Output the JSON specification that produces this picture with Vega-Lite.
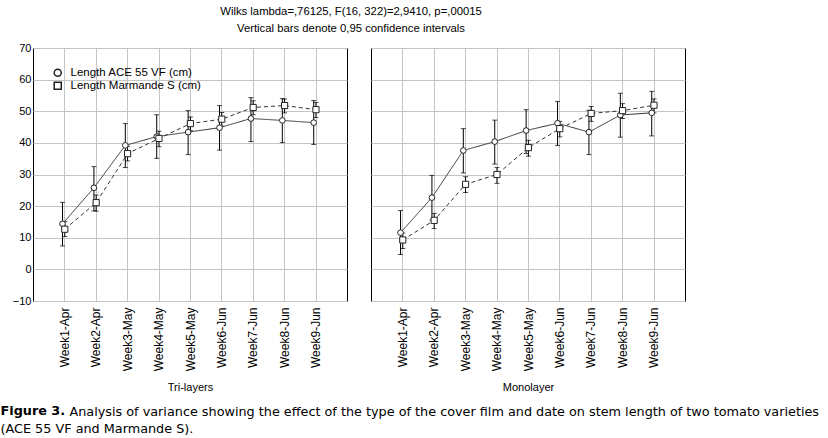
{
  "$schema": "https://vega.github.io/schema/vega-lite/v6.json",
  "padding": {"left": 0, "top": 6, "right": 2, "bottom": 2},
  "background": "white",
  "config": {
    "font": "Liberation Sans",
    "view": {"stroke": "black", "strokeWidth": 1},
    "axis": {"domain": false, "grid": true, "gridColor": "#c4c4c4", "gridOpacity": 1, "gridWidth": 1, "labelColor": "black", "labelFontSize": 11, "titleFontWeight": "normal", "titleFontSize": 11, "titleColor": "black", "tickColor": "black"},
    "axisY": {"values": [-10, 0, 10, 20, 30, 40, 50, 60, 70], "labelOverlap": false, "title": null, "ticks": false, "labelPadding": 2}
  },
  "datasets": {
    "d": [
      {"panel": "Tri-layers", "week": "Week1-Apr", "series": "Length ACE 55 VF (cm)", "mean": 14.4, "lo": 7.4, "hi": 21.2},
      {"panel": "Tri-layers", "week": "Week2-Apr", "series": "Length ACE 55 VF (cm)", "mean": 25.8, "lo": 18.5, "hi": 32.5},
      {"panel": "Tri-layers", "week": "Week3-May", "series": "Length ACE 55 VF (cm)", "mean": 39.2, "lo": 32.2, "hi": 46.1},
      {"panel": "Tri-layers", "week": "Week4-May", "series": "Length ACE 55 VF (cm)", "mean": 42.0, "lo": 35.1, "hi": 48.9},
      {"panel": "Tri-layers", "week": "Week5-May", "series": "Length ACE 55 VF (cm)", "mean": 43.4, "lo": 36.3, "hi": 50.2},
      {"panel": "Tri-layers", "week": "Week6-Jun", "series": "Length ACE 55 VF (cm)", "mean": 44.8, "lo": 37.7, "hi": 51.8},
      {"panel": "Tri-layers", "week": "Week7-Jun", "series": "Length ACE 55 VF (cm)", "mean": 47.7, "lo": 40.4, "hi": 54.3},
      {"panel": "Tri-layers", "week": "Week8-Jun", "series": "Length ACE 55 VF (cm)", "mean": 47.1, "lo": 40.1, "hi": 54.0},
      {"panel": "Tri-layers", "week": "Week9-Jun", "series": "Length ACE 55 VF (cm)", "mean": 46.4, "lo": 39.5, "hi": 53.4},
      {"panel": "Tri-layers", "week": "Week1-Apr", "series": "Length Marmande S (cm)", "mean": 12.7, "lo": 10.4, "hi": 15.1},
      {"panel": "Tri-layers", "week": "Week2-Apr", "series": "Length Marmande S (cm)", "mean": 21.1, "lo": 18.4, "hi": 23.5},
      {"panel": "Tri-layers", "week": "Week3-May", "series": "Length Marmande S (cm)", "mean": 36.6, "lo": 34.3, "hi": 38.9},
      {"panel": "Tri-layers", "week": "Week4-May", "series": "Length Marmande S (cm)", "mean": 41.4, "lo": 38.8, "hi": 43.7},
      {"panel": "Tri-layers", "week": "Week5-May", "series": "Length Marmande S (cm)", "mean": 46.1, "lo": 43.9, "hi": 48.2},
      {"panel": "Tri-layers", "week": "Week6-Jun", "series": "Length Marmande S (cm)", "mean": 47.5, "lo": 45.3, "hi": 49.6},
      {"panel": "Tri-layers", "week": "Week7-Jun", "series": "Length Marmande S (cm)", "mean": 51.2, "lo": 48.9, "hi": 53.3},
      {"panel": "Tri-layers", "week": "Week8-Jun", "series": "Length Marmande S (cm)", "mean": 51.8, "lo": 49.5, "hi": 53.9},
      {"panel": "Tri-layers", "week": "Week9-Jun", "series": "Length Marmande S (cm)", "mean": 50.5, "lo": 48.0, "hi": 52.8},
      {"panel": "Monolayer", "week": "Week1-Apr", "series": "Length ACE 55 VF (cm)", "mean": 11.6, "lo": 4.7, "hi": 18.6},
      {"panel": "Monolayer", "week": "Week2-Apr", "series": "Length ACE 55 VF (cm)", "mean": 22.7, "lo": 15.6, "hi": 29.7},
      {"panel": "Monolayer", "week": "Week3-May", "series": "Length ACE 55 VF (cm)", "mean": 37.6, "lo": 30.5, "hi": 44.5},
      {"panel": "Monolayer", "week": "Week4-May", "series": "Length ACE 55 VF (cm)", "mean": 40.4, "lo": 33.3, "hi": 47.2},
      {"panel": "Monolayer", "week": "Week5-May", "series": "Length ACE 55 VF (cm)", "mean": 43.9, "lo": 36.6, "hi": 50.5},
      {"panel": "Monolayer", "week": "Week6-Jun", "series": "Length ACE 55 VF (cm)", "mean": 46.2, "lo": 39.2, "hi": 53.1},
      {"panel": "Monolayer", "week": "Week7-Jun", "series": "Length ACE 55 VF (cm)", "mean": 43.4, "lo": 36.3, "hi": 50.3},
      {"panel": "Monolayer", "week": "Week8-Jun", "series": "Length ACE 55 VF (cm)", "mean": 48.8, "lo": 41.8, "hi": 55.7},
      {"panel": "Monolayer", "week": "Week9-Jun", "series": "Length ACE 55 VF (cm)", "mean": 49.5, "lo": 42.2, "hi": 56.3},
      {"panel": "Monolayer", "week": "Week1-Apr", "series": "Length Marmande S (cm)", "mean": 9.3, "lo": 6.6, "hi": 11.5},
      {"panel": "Monolayer", "week": "Week2-Apr", "series": "Length Marmande S (cm)", "mean": 15.5, "lo": 12.9, "hi": 17.7},
      {"panel": "Monolayer", "week": "Week3-May", "series": "Length Marmande S (cm)", "mean": 26.9, "lo": 24.3, "hi": 29.3},
      {"panel": "Monolayer", "week": "Week4-May", "series": "Length Marmande S (cm)", "mean": 30.0, "lo": 27.2, "hi": 32.2},
      {"panel": "Monolayer", "week": "Week5-May", "series": "Length Marmande S (cm)", "mean": 38.5, "lo": 35.8, "hi": 40.8},
      {"panel": "Monolayer", "week": "Week6-Jun", "series": "Length Marmande S (cm)", "mean": 44.5, "lo": 41.9, "hi": 46.8},
      {"panel": "Monolayer", "week": "Week7-Jun", "series": "Length Marmande S (cm)", "mean": 49.3, "lo": 46.8, "hi": 51.5},
      {"panel": "Monolayer", "week": "Week8-Jun", "series": "Length Marmande S (cm)", "mean": 50.2, "lo": 47.7, "hi": 52.4},
      {"panel": "Monolayer", "week": "Week9-Jun", "series": "Length Marmande S (cm)", "mean": 51.9, "lo": 49.5, "hi": 53.9}
    ]
  },
  "title": {
    "text": "Analysis of variance showing the effect of the type of the cover film and date on stem length of two tomato varieties",
    "orient": "bottom", "anchor": "start", "dx": 69, "offset": -30,
    "font": "DejaVu Sans", "fontSize": 12.8, "fontWeight": "normal", "color": "black"
  },
  "vconcat": [
    {
      "title": {
        "text": "Figure 3.", "subtitle": "(ACE 55 VF and Marmande S).",
        "orient": "bottom", "anchor": "start", "offset": 12,
        "font": "DejaVu Sans", "fontSize": 12.8, "fontWeight": "bold", "color": "black",
        "subtitleFont": "DejaVu Sans", "subtitleFontSize": 12.8, "subtitleColor": "black", "subtitlePadding": 5
      },
      "vconcat": [
        {
          "title": {
            "text": ["Wilks lambda=,76125, F(16, 322)=2,9410, p=,00015", "Vertical bars denote 0,95 confidence intervals"],
            "anchor": "middle", "dx": 8, "fontSize": 11.3, "fontWeight": "normal", "lineHeight": 17, "offset": 7, "color": "black"
          },
          "spacing": 22,
          "resolve": {"legend": {"shape": "independent"}},
          "hconcat": [
            {
              "width": 314, "height": 253,
              "data": {"name": "d"},
              "transform": [{"filter": "datum.panel === 'Tri-layers'"}],
              "encoding": {
                "x": {"field": "week", "type": "ordinal", "scale": {"type": "point", "padding": 1},
                  "axis": {"title": "Tri-layers", "grid": true, "labelAngle": 270, "labelAlign": "right", "labelBaseline": "middle", "labelFontSize": 12, "labelPadding": 6, "ticks": false, "titlePadding": 11}},
                "xOffset": {"field": "series", "type": "nominal", "scale": {"domain": ["Length ACE 55 VF (cm)", "Length Marmande S (cm)"], "range": [-3, 1.5]}}
              },
              "layer": [
                {"mark": {"type": "rule", "color": "black", "strokeWidth": 1},
                 "encoding": {"y": {"field": "lo", "type": "quantitative", "scale": {"domain": [-10, 70], "nice": false}, "axis": {"minExtent": 32, "maxExtent": 32}}, "y2": {"field": "hi"}}},
                {"mark": {"type": "tick", "color": "black", "thickness": 1, "size": 5, "orient": "horizontal"},
                 "encoding": {"y": {"field": "lo", "type": "quantitative"}}},
                {"mark": {"type": "tick", "color": "black", "thickness": 1, "size": 5, "orient": "horizontal"},
                 "encoding": {"y": {"field": "hi", "type": "quantitative"}}},
                {"mark": {"type": "line", "color": "#333333", "strokeWidth": 1},
                 "encoding": {"y": {"field": "mean", "type": "quantitative"},
                   "strokeDash": {"field": "series", "type": "nominal", "scale": {"domain": ["Length ACE 55 VF (cm)", "Length Marmande S (cm)"], "range": [[1, 0], [4, 3]]}, "legend": null}}},
                {"mark": {"type": "point", "filled": true, "fill": "white", "stroke": "#222222", "strokeWidth": 1, "opacity": 1},
                 "encoding": {"y": {"field": "mean", "type": "quantitative"},
                   "shape": {"field": "series", "type": "nominal", "scale": {"domain": ["Length ACE 55 VF (cm)", "Length Marmande S (cm)"], "range": ["circle", "square"]},
                     "legend": {"title": null, "orient": "none", "legendX": 19, "legendY": 19, "padding": 0, "labelFontSize": 11.5, "labelColor": "black", "labelOffset": 7, "symbolSize": 50, "rowPadding": -5,
                       "encode": {"symbols": {"update": {"stroke": {"value": "black"}, "strokeWidth": {"value": 1}, "fill": {"value": "white"}, "opacity": {"value": 1}, "fillOpacity": {"value": 1}, "strokeOpacity": {"value": 1}, "size": {"value": 50}}}}}},
                   "size": {"field": "series", "type": "nominal", "scale": {"domain": ["Length ACE 55 VF (cm)", "Length Marmande S (cm)"], "range": [32, 38]}, "legend": null}}}
              ]
            },
            {
              "width": 314, "height": 253,
              "data": {"name": "d"},
              "transform": [{"filter": "datum.panel === 'Monolayer'"}],
              "encoding": {
                "x": {"field": "week", "type": "ordinal", "scale": {"type": "point", "padding": 1},
                  "axis": {"title": "Monolayer", "grid": true, "labelAngle": 270, "labelAlign": "right", "labelBaseline": "middle", "labelFontSize": 12, "labelPadding": 6, "ticks": false, "titlePadding": 11}},
                "xOffset": {"field": "series", "type": "nominal", "scale": {"domain": ["Length ACE 55 VF (cm)", "Length Marmande S (cm)"], "range": [-3, 1.5]}}
              },
              "layer": [
                {"mark": {"type": "rule", "color": "black", "strokeWidth": 1},
                 "encoding": {"y": {"field": "lo", "type": "quantitative", "scale": {"domain": [-10, 70], "nice": false}, "axis": {"labels": false}}, "y2": {"field": "hi"}}},
                {"mark": {"type": "tick", "color": "black", "thickness": 1, "size": 5, "orient": "horizontal"},
                 "encoding": {"y": {"field": "lo", "type": "quantitative", "axis": {"labels": false}}}},
                {"mark": {"type": "tick", "color": "black", "thickness": 1, "size": 5, "orient": "horizontal"},
                 "encoding": {"y": {"field": "hi", "type": "quantitative", "axis": {"labels": false}}}},
                {"mark": {"type": "line", "color": "#333333", "strokeWidth": 1},
                 "encoding": {"y": {"field": "mean", "type": "quantitative", "axis": {"labels": false}},
                   "strokeDash": {"field": "series", "type": "nominal", "scale": {"domain": ["Length ACE 55 VF (cm)", "Length Marmande S (cm)"], "range": [[1, 0], [4, 3]]}, "legend": null}}},
                {"mark": {"type": "point", "filled": true, "fill": "white", "stroke": "#222222", "strokeWidth": 1, "opacity": 1},
                 "encoding": {"y": {"field": "mean", "type": "quantitative", "axis": {"labels": false}},
                   "shape": {"field": "series", "type": "nominal", "scale": {"domain": ["Length ACE 55 VF (cm)", "Length Marmande S (cm)"], "range": ["circle", "square"]}, "legend": null},
                   "size": {"field": "series", "type": "nominal", "scale": {"domain": ["Length ACE 55 VF (cm)", "Length Marmande S (cm)"], "range": [32, 38]}, "legend": null}}}
              ]
            }
          ]
        }
      ]
    }
  ]
}
